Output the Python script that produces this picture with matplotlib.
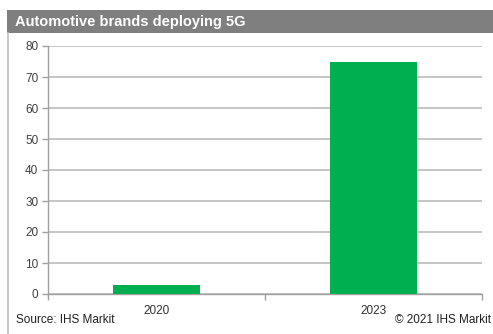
import matplotlib
matplotlib.use("Agg")
import matplotlib.pyplot as plt
from matplotlib.patches import Rectangle
from matplotlib.lines import Line2D

categories = ["2020", "2023"]
values = [3, 75]
yticks = [0, 10, 20, 30, 40, 50, 60, 70, 80]
title = "Automotive brands deploying 5G"
source = "Source: IHS Markit"
copyright_txt = "© 2021 IHS Markit"

plt.rcParams['font.family'] = ['Liberation Sans', 'DejaVu Sans']

W, H = 493, 334
fig = plt.figure(figsize=(W / 100, H / 100), dpi=100)
fig.patch.set_facecolor("white")

# title bar
fig.patches.append(Rectangle((7 / W, 1 - 33 / H), 1 - 7 / W, 23 / H,
                             transform=fig.transFigure, facecolor="#7f7f7f",
                             edgecolor="none", zorder=0))
fig.text(15 / W, 1 - 22 / H, title, color="white", fontsize=10.5, fontweight="bold",
         va="center", ha="left")
# left border line
fig.lines.append(Line2D([7.5 / W, 7.5 / W], [0, 1 - 33 / H], transform=fig.transFigure,
                        color="#bfbfbf", linewidth=1.2))

ax = fig.add_axes([48 / W, 40 / H, 434 / W, 248 / H])
x = list(range(len(categories)))
ax.bar(x, values, width=0.4, color="#00b050", zorder=3)
ax.set_xlim(-0.5, len(categories) - 0.5)
ax.set_ylim(0, 80)
ax.set_yticks(yticks)
ax.set_yticklabels([str(t) for t in yticks], fontsize=8.5, color="#404040")
ax.yaxis.grid(True, color="#c0c0c0", linewidth=1.3, zorder=0)
ax.set_axisbelow(True)
ax.set_xticks(x)
ax.set_xticklabels(categories, fontsize=8.5, color="#303030")
ax.tick_params(axis="x", length=0, pad=8)
ax.set_xticks([i - 0.5 for i in range(len(categories) + 1)], minor=True)
ax.tick_params(axis="x", which="minor", length=4, color="#a0a0a0", width=1)
ax.tick_params(axis="y", length=4, color="#a0a0a0", width=1, pad=3)
for s in ["top", "right"]:
    ax.spines[s].set_visible(False)
for s in ["left", "bottom"]:
    ax.spines[s].set_color("#a0a0a0")
    ax.spines[s].set_linewidth(1)

fig.text(16 / W, 1 - 320 / H, source, fontsize=8.5, color="#202020", va="center", ha="left")
fig.text(491 / W, 1 - 320 / H, copyright_txt, fontsize=8.5, color="#202020", va="center", ha="right")

fig.savefig("out.png", dpi=100)
